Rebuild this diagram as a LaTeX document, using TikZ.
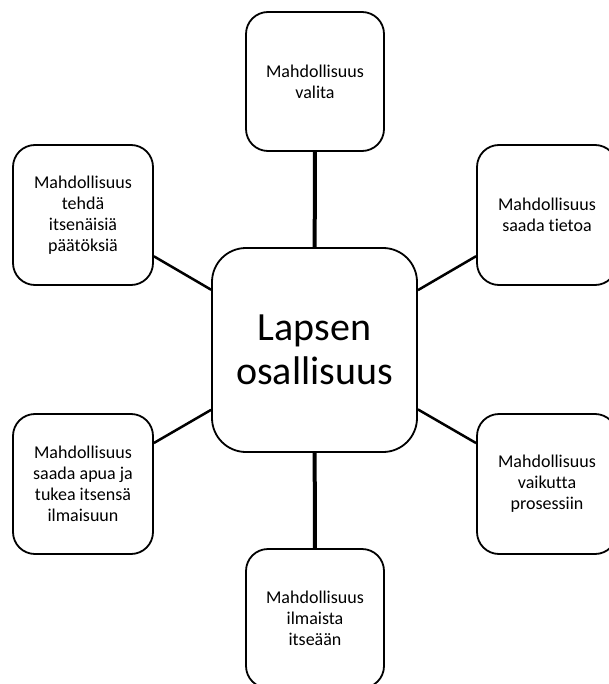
\documentclass[tikz,border=0pt]{standalone}
\usepackage{fontspec}
\setmainfont[Ligatures=NoCommon]{Carlito}

\begin{document}
\begin{tikzpicture}[x=1pt,y=-1pt,
	laatikko/.style={draw,line width=1.8pt,rounded corners=22pt,minimum width=140pt,minimum height=140pt,inner sep=0pt,align=center,font=\fontsize{18}{21}\selectfont},
	keskus/.style={draw,line width=1.8pt,rounded corners=34pt,minimum width=205pt,minimum height=204pt,inner sep=0pt,align=center,font=\fontsize{40}{44}\selectfont},
	ohut/.style={line width=2.5pt},
	paksu/.style={line width=4pt}]

	\useasboundingbox (0,0) rectangle (609,684);
	\clip (0,0) rectangle (609,684);

	% Keskus
	\node [keskus] (lapsi) at (314.5,350) {Lapsen\\osallisuus};

	% Laatikot
	\node [laatikko,minimum width=138pt,minimum height=139pt] (valita) at (315,81.5) {Mahdollisuus\\valita};
	\node [laatikko] (paatos) at (83,215) {Mahdollisuus\\tehdä\\itsenäisiä\\päätöksiä};
	\node [laatikko] (tieto) at (547,215) {Mahdollisuus\\saada tietoa};
	\node [laatikko] (apu) at (83,484) {Mahdollisuus\\saada apua ja\\tukea itsensä\\ilmaisuun};
	\node [laatikko] (vaikutus) at (547,484) {Mahdollisuus\\vaikutta\\prosessiin};
	\node [laatikko,minimum width=138pt,minimum height=139pt] (ilmaisu) at (315,618.5) {Mahdollisuus\\ilmaista\\itseään};

	% Viivat
	\draw [paksu] (valita) -- (lapsi);
	\draw [paksu] (lapsi) -- (ilmaisu);
	\draw [ohut] (paatos) -- (lapsi);
	\draw [ohut] (tieto) -- (lapsi);
	\draw [ohut] (apu) -- (lapsi);
	\draw [ohut] (vaikutus) -- (lapsi);
\end{tikzpicture}
\end{document}
